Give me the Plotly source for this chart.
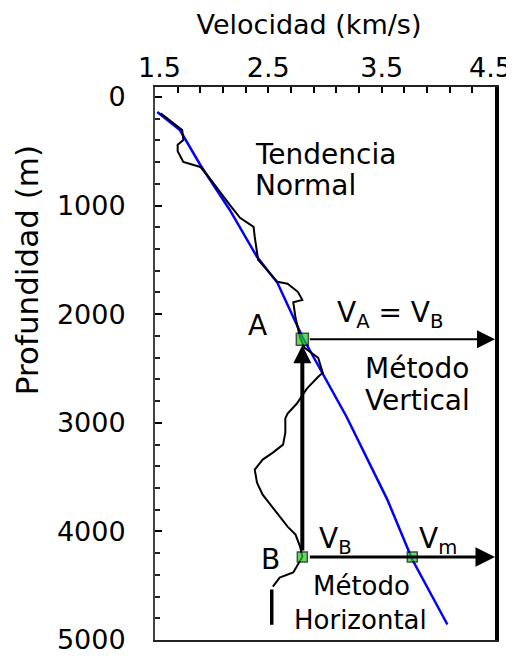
import plotly.graph_objects as go

# ---- data (velocity km/s, depth m) ----
trend_velocity = [1.52, 1.72, 1.90, 2.16, 2.40, 2.58, 2.80, 3.19, 3.55, 3.77, 4.08]
trend_depth    = [138, 304, 626, 1040, 1472, 1711, 2208, 2944, 3707, 4259, 4857]

measured_velocity = [1.55, 1.60, 1.74, 1.75, 1.70, 1.70, 1.75, 1.90, 1.98, 2.16, 2.25, 2.37,
                     2.38, 2.41, 2.58, 2.67, 2.76, 2.80, 2.72, 2.74, 2.78, 2.82, 2.94, 2.98,
                     2.94, 2.84, 2.75, 2.67, 2.65, 2.65, 2.63, 2.54, 2.45, 2.38, 2.40, 2.45,
                     2.53, 2.60, 2.67, 2.74, 2.78, 2.80, 2.72, 2.60, 2.54]
measured_depth    = [150, 190, 304, 396, 440, 500, 598, 644, 745, 994, 1113, 1196,
                     1288, 1500, 1702, 1720, 1794, 1868, 1890, 2033, 2217, 2309, 2401, 2539,
                     2576, 2685, 2825, 2915, 2960, 3091, 3201, 3275, 3339, 3431, 3551, 3662,
                     3772, 3864, 3956, 4029, 4140, 4235, 4379, 4425, 4508]

bottom_velocity = [2.53, 2.53]
bottom_depth = [4535, 4860]

point_names = ["A", "B", "Vm"]
point_velocity = [2.80, 2.80, 3.77]
point_depth = [2230, 4235, 4235]

# tick marks every 0.2; labels placed where the reference prints them
x_tick_marks = [1.5, 1.7, 1.9, 2.1, 2.3, 2.5, 2.7, 2.9, 3.1, 3.3, 3.5, 3.7, 3.9, 4.1, 4.3, 4.5]
x_label_values = [1.54, 2.5, 3.5, 4.46]
x_label_text = ["1.5", "2.5", "3.5", "4.5"]
y_tick_values = [0, 1000, 2000, 3000, 4000, 5000]
y_tick_labels = ["0", "1000", "2000", "3000", "4000", "5000"]

FONT = "DejaVu Sans"

fig = go.Figure()

fig.add_trace(go.Scatter(x=trend_velocity, y=trend_depth, mode="lines",
                         line=dict(color="#0000ff", width=2.5), showlegend=False))
fig.add_trace(go.Scatter(x=measured_velocity, y=measured_depth, mode="lines",
                         line=dict(color="black", width=2), showlegend=False))
fig.add_trace(go.Scatter(x=bottom_velocity, y=bottom_depth, mode="lines",
                         line=dict(color="black", width=3.5), showlegend=False))
# dummy traces for helper axes (right frame line, top tick labels)
fig.add_trace(go.Scatter(x=[], y=[], yaxis="y2", showlegend=False))
fig.add_trace(go.Scatter(x=[], y=[], xaxis="x2", showlegend=False))

# arrows
vA, vB, vM = point_velocity
dA, dB, dM = point_depth
fig.add_annotation(x=4.5, y=dA, ax=vA, ay=dA, xref="x", yref="y", axref="x", ayref="y",
                   text="", showarrow=True, arrowhead=2, arrowsize=1.8, arrowwidth=2,
                   arrowcolor="black", startstandoff=6)
fig.add_annotation(x=4.5, y=dB, ax=vB, ay=dB, xref="x", yref="y", axref="x", ayref="y",
                   text="", showarrow=True, arrowhead=2, arrowsize=1.3, arrowwidth=3,
                   arrowcolor="black", startstandoff=6)
fig.add_annotation(x=vA, y=dA, ax=vB, ay=dB, xref="x", yref="y", axref="x", ayref="y",
                   text="", showarrow=True, arrowhead=2, arrowsize=0.9, arrowwidth=4,
                   arrowcolor="black", standoff=6, startstandoff=5)

fig.add_trace(go.Scatter(x=point_velocity, y=point_depth, mode="markers",
                         marker=dict(symbol="square", size=[12, 10, 10], color="#22cc22",
                                     line=dict(color="black", width=1.5)),
                         showlegend=False, cliponaxis=False))

# text labels
def label(text, x, y, xanchor="center", size=28):
    fig.add_annotation(x=x, y=y, xref="x", yref="y", text=text, showarrow=False,
                       xanchor=xanchor, yanchor="middle",
                       font=dict(family=FONT, size=size, color="black"))

label("Tendencia", 2.365, 534, "left")
label("Normal", 2.365, 819, "left")
label("A", 2.40, 2107)
label("V<sub>A</sub> = V<sub>B</sub>", 3.57, 2000)
label("Método", 3.335, 2502, "left")
label("Vertical", 3.335, 2797, "left")
label("B", 2.515, 4259)
label("V<sub>B</sub>", 2.93, 4080, "left")
label("V<sub>m</sub>", 3.81, 4080, "left")
label("Método", 3.318, 4500, size=26)
label("Horizontal", 3.31, 4815, size=26)

fig.add_annotation(x=-0.376, y=0.669, xref="paper", yref="paper", text="Profundidad (m)",
                   textangle=-90, showarrow=False, xanchor="center", yanchor="middle",
                   font=dict(family=FONT, size=31, color="black"))

# the page body adds an 8px offset, so margins are shifted by 8px
fig.update_layout(
    width=514, height=656,
    margin=dict(l=147, r=27, t=79, b=24, autoexpand=False),
    paper_bgcolor="white", plot_bgcolor="white",
    font=dict(family=FONT, size=27, color="black"),
    title=dict(text="Velocidad (km/s)", x=301 / 514, xref="container", xanchor="center",
               y=1 - 16.5 / 656, yref="container", yanchor="middle",
               font=dict(family=FONT, size=27, color="black")),
    xaxis=dict(side="top", range=[1.5, 4.5], tickmode="array",
               tickvals=x_tick_marks, ticktext=[""] * len(x_tick_marks),
               ticks="inside", ticklen=6, tickwidth=2, tickcolor="black",
               showline=True, linecolor="#222", linewidth=2, mirror=True,
               showgrid=False, zeroline=False, automargin=False),
    xaxis2=dict(overlaying="x", side="top", anchor="y", range=[1.5, 4.5], tickmode="array",
                tickvals=x_label_values, ticktext=x_label_text, ticks="",
                showline=False, showgrid=False, zeroline=False, ticklabelstandoff=4,
                automargin=False, tickfont=dict(family=FONT, size=27, color="black")),
    yaxis=dict(range=[5000, -92], tickmode="array",
               tickvals=y_tick_values, ticktext=y_tick_labels,
               ticks="inside", ticklen=7, tickwidth=2, tickcolor="black",
               minor=dict(ticks="inside", tick0=0, dtick=200, ticklen=5, tickwidth=2,
                          tickcolor="#222"),
               showline=True, linecolor="#444", linewidth=2,
               showgrid=False, zeroline=False, ticklabelstandoff=22,
               automargin=False),
    yaxis2=dict(overlaying="y", side="right", range=[5000, -92], showline=True,
                linecolor="black", linewidth=3.5, showticklabels=False, ticks="",
                showgrid=False, zeroline=False, automargin=False),
)

fig.write_html("out.html")
